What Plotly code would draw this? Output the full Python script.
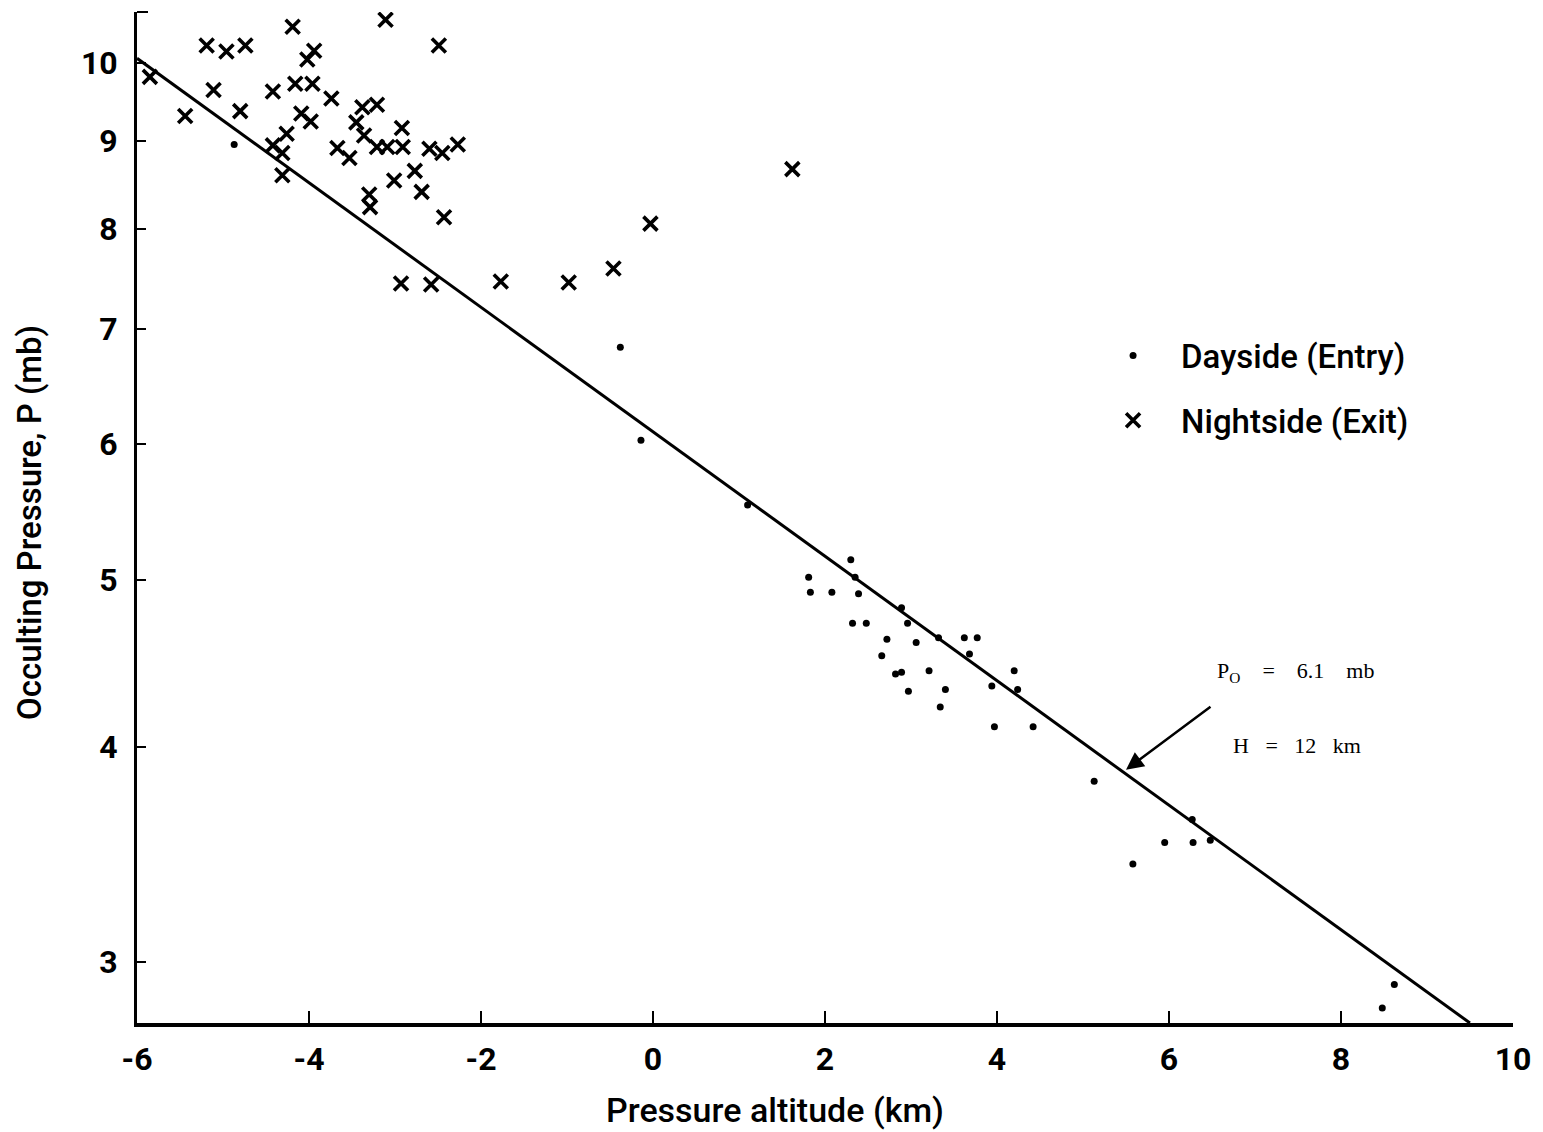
import numpy as np
import plotly.graph_objects as go

# Nightside (exit) occultation points: pressure altitude (km), pressure (mb)
night_alt = [-5.85, -5.44, -5.19, -4.96, -4.74, -5.11, -4.80, -4.42, -4.19, -4.16,
             -4.02, -3.94, -3.96, -4.09, -3.98, -3.74, -4.42, -4.26, -4.31, -4.31,
             -3.67, -3.53, -3.45, -3.38, -3.21, -3.36, -3.30, -3.29, -3.21, -3.09,
             -3.11, -2.92, -2.91, -3.01, -2.77, -2.69, -2.60, -2.45, -2.27, -2.49,
             -2.43, -2.93, -2.58, -1.77, -0.98, -0.46, -0.03, 1.62]
night_p = [9.81, 9.31, 10.23, 10.15, 10.23, 9.64, 9.37, 9.62, 10.49, 9.72,
           10.04, 10.16, 9.72, 9.34, 9.24, 9.53, 8.95, 9.09, 8.86, 8.60,
           8.92, 8.80, 9.23, 9.42, 9.45, 9.07, 8.38, 8.24, 8.93, 8.93,
           10.59, 9.16, 8.93, 8.54, 8.65, 8.41, 8.91, 8.86, 8.96, 10.23,
           8.13, 7.44, 7.43, 7.46, 7.45, 7.59, 8.06, 8.67]

# Dayside (entry) occultation points
day_alt = [-4.87, -0.38, -0.14, 1.10, 1.81, 1.83, 2.08, 2.30, 2.35, 2.39,
           2.32, 2.48, 2.89, 2.96, 2.72, 3.06, 2.66, 2.82, 2.89, 2.97,
           3.21, 3.32, 3.40, 3.34, 3.62, 3.77, 3.68, 3.94, 3.97, 4.20,
           4.24, 4.42, 5.13, 6.27, 5.95, 6.28, 6.48, 5.58, 8.62, 8.48]
day_p = [8.96, 6.83, 6.03, 5.53, 5.02, 4.92, 4.92, 5.14, 5.02, 4.91,
         4.72, 4.72, 4.82, 4.72, 4.62, 4.60, 4.52, 4.41, 4.42, 4.31,
         4.43, 4.63, 4.32, 4.22, 4.63, 4.63, 4.53, 4.34, 4.11, 4.43,
         4.32, 4.11, 3.82, 3.63, 3.52, 3.52, 3.53, 3.42, 2.91, 2.82]

# Exponential atmosphere fit P = P0 * exp(-z / H)
P0 = 6.1   # mb
H = 12.0   # km

x_range = [-6, 10]
p_bottom, p_top = 2.764, 10.70
y_ticks = [3, 4, 5, 6, 7, 8, 9, 10]
x_ticks = [-6, -4, -2, 0, 2, 4, 6, 8, 10]

z_end = -H * np.log(p_bottom / P0)
fit_z = np.linspace(x_range[0], z_end, 50)
fit_p = P0 * np.exp(-fit_z / H)

SANS = "Roboto, Liberation Sans, sans-serif"
SERIF = "Liberation Serif, DejaVu Serif, serif"

fig = go.Figure()

fig.add_trace(go.Scatter(
    x=fit_z, y=fit_p, mode="lines",
    line=dict(color="black", width=3),
    showlegend=False, hoverinfo="skip",
))

fig.add_trace(go.Scatter(
    x=day_alt, y=day_p, mode="markers", name="Dayside (Entry)",
    legendgroup="day",
    marker=dict(symbol="circle", size=7, color="black"),
))

fig.add_trace(go.Scatter(
    x=night_alt, y=night_p, mode="markers", name="Nightside (Exit)",
    legendgroup="night",
    marker=dict(symbol="x-thin", size=14, color="black",
                line=dict(width=3.6, color="black")),
))

# Fit parameters with an arrow pointing at the line
fig.add_annotation(
    x=5.5, y=np.log10(3.88), xref="x", yref="y",
    text="", showarrow=True, arrowhead=2, arrowsize=1.4, arrowwidth=2.5,
    arrowcolor="black", ax=86, ay=-64,
)
fig.add_annotation(
    x=6.53, y=np.log10(4.42), xref="x", yref="y", xanchor="left", yanchor="middle",
    text="P<sub>O</sub>    =    6.1    mb", showarrow=False,
    font=dict(family=SERIF, size=22, color="black"),
)
fig.add_annotation(
    x=6.72, y=np.log10(4.01), xref="x", yref="y", xanchor="left", yanchor="middle",
    text="H   =   12   km", showarrow=False,
    font=dict(family=SERIF, size=22, color="black"),
)

# Axis titles
fig.add_annotation(
    x=0.4638, y=-0.086, xref="paper", yref="paper",
    xanchor="center", yanchor="middle", showarrow=False,
    text="Pressure altitude (km)",
    font=dict(family=SANS, size=34, color="black", weight=500),
)
fig.add_annotation(
    x=-0.0785, y=0.4955, xref="paper", yref="paper",
    xanchor="center", yanchor="middle", showarrow=False, textangle=-90,
    text="Occulting Pressure, P (mb)",
    font=dict(family=SANS, size=33, color="black", weight=500),
)

# small cap tick at the top of the pressure axis
fig.add_shape(type="line", xref="paper", yref="paper",
              x0=0, x1=0.008, y0=1, y1=1, line=dict(color="black", width=2))

fig.update_xaxes(
    range=x_range, tickvals=x_ticks, ticktext=[str(v) for v in x_ticks],
    showline=True, linecolor="black", linewidth=4, mirror=False,
    ticks="inside", ticklen=12, tickwidth=2, tickcolor="black",
    showgrid=False, zeroline=False,
    tickfont=dict(family=SANS, size=32, color="black", weight="bold"),
    ticklabelstandoff=5,
)
fig.update_yaxes(
    type="log", range=[np.log10(p_bottom), np.log10(p_top)],
    tickvals=y_ticks, ticktext=[str(v) for v in y_ticks],
    showline=True, linecolor="black", linewidth=3, mirror=False,
    ticks="inside", ticklen=9, tickwidth=2, tickcolor="black",
    showgrid=False, zeroline=False,
    tickfont=dict(family=SANS, size=32, color="black", weight="bold"),
    ticklabelstandoff=10,
)

fig.update_layout(
    width=1543, height=1132,
    margin=dict(l=137, r=24, t=12, b=109),
    paper_bgcolor="white", plot_bgcolor="white",
    showlegend=True,
    legend=dict(
        x=0.689, y=0.688, xanchor="left", yanchor="top",
        bgcolor="rgba(0,0,0,0)", borderwidth=0,
        font=dict(family=SANS, size=33, color="black", weight=500),
        tracegroupgap=19, itemwidth=86,
    ),
)

fig.write_html("out.html")
